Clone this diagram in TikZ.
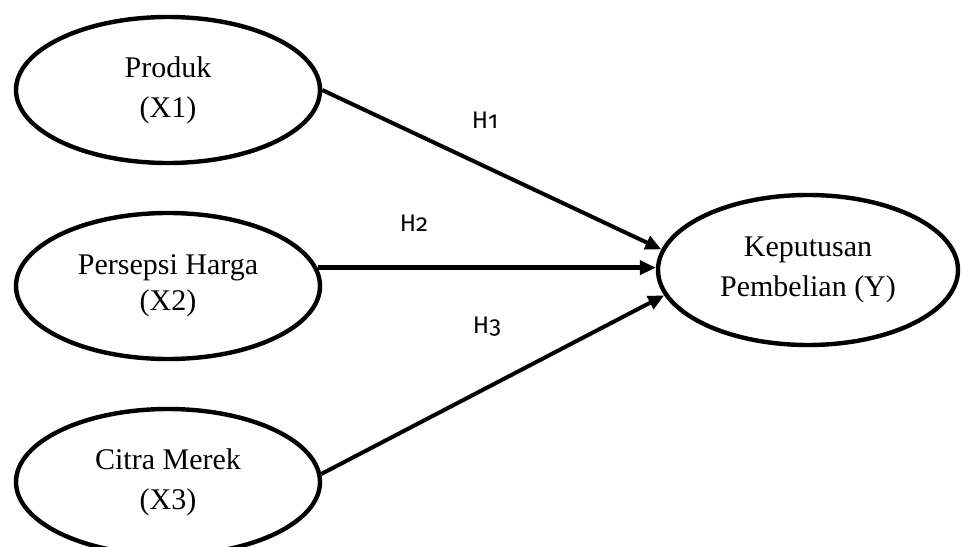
\documentclass[tikz,border=0pt]{standalone}
\usepackage{fontspec}
\setmainfont{Liberation Serif}
\newfontfamily\hfont[Numbers=OldStyle]{Fira Sans}
\usetikzlibrary{shapes.geometric}
\usetikzlibrary{arrows.meta}
\begin{document}
\begin{tikzpicture}[x=0.5pt,y=-0.5pt,
  var/.style={ellipse,draw,line width=2.2pt,minimum width=152pt,minimum height=73pt,
    inner sep=0pt,align=center,font=\fontsize{15}{20}\selectfont},
  hyp/.style={-{Triangle[length=8pt,width=7pt]},line width=2pt},
  hlab/.style={font=\hfont\fontsize{12}{14}\selectfont}]
  \clip (0,0) rectangle (962,546);
  \useasboundingbox (0,0) rectangle (962,546);
  % variabel
  \node[var] (x1) at (168,90) {Produk\\(X1)};
  \node[var,font=\fontsize{15}{18}\selectfont] (x2) at (168,286) {Persepsi Harga\\(X2)};
  \node[var] (x3) at (168,482) {Citra Merek\\(X3)};
  \node[var,minimum width=150pt,minimum height=75pt] (y) at (808,270) {Keputusan\\Pembelian (Y)};
  % hipotesis
  \draw[hyp] (x1.east) -- (y.172);
  \draw[hyp,line width=2.4pt] (x2.7) -- (x2.7 -| y.west);
  \draw[hyp] (x3.3) -- (y.190);
  \node[hlab] (h1) at (485,120) {H1};
  \node[hlab] (h2) at (414,223) {H2};
  \node[hlab] (h3) at (487,327) {H3};
\end{tikzpicture}
\end{document}
